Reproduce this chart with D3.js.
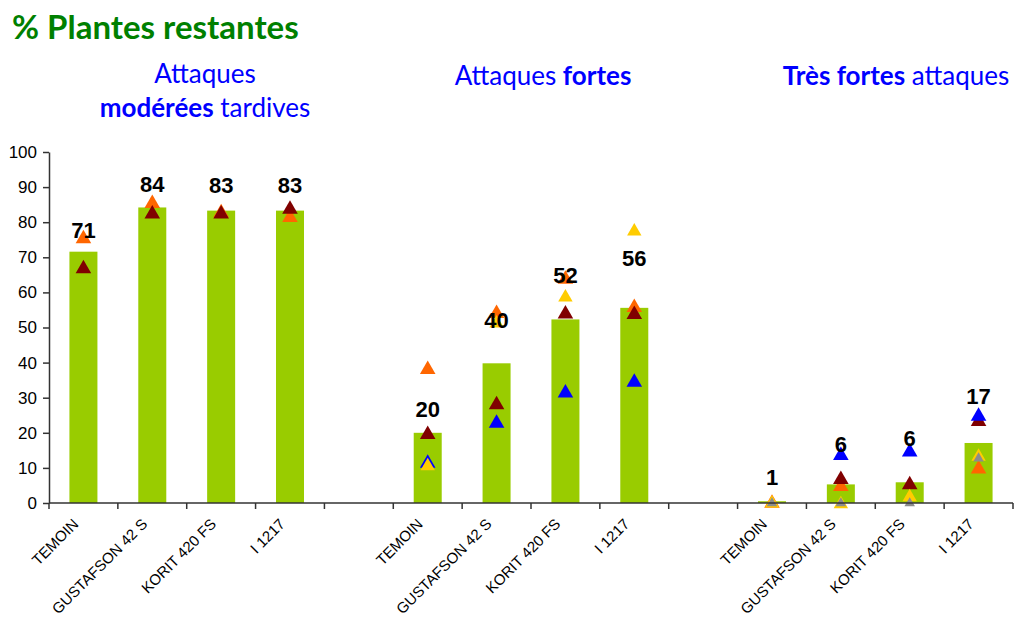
<!DOCTYPE html>
<html>
<head>
<meta charset="utf-8">
<script src="https://cdn.jsdelivr.net/npm/d3@7"></script>
<style>
  body { margin: 0; background: #fff; }
  svg text { font-family: "Liberation Sans", Arial, sans-serif; }
  .head { font-family: Lato, "Open Sans", sans-serif !important; fill: #0000ff; }
</style>
</head>
<body>
<svg id="chart" width="1014" height="619"></svg>
<script>
// --- data ---
var groups = ["moderees", "fortes", "tresfortes"];
var varieties = ["TEMOIN", "GUSTAFSON 42 S", "KORIT 420 FS", "I 1217"];
var yTicks = [0, 10, 20, 30, 40, 50, 60, 70, 80, 90, 100];

// green bars, 4 per group
var barModerees = [71.6, 84.2, 83.3, 83.3];
var barFortes = [20.0, 39.8, 52.3, 55.6];
var barTresFortes = [0.5, 5.3, 5.9, 17.1];

// numbers written above the bars and where they sit (in % units, baseline)
var labelModerees = ["71", "84", "83", "83"];
var labelFortes = ["20", "40", "52", "56"];
var labelTresFortes = ["1", "6", "6", "17"];
var labelAtModerees = [75.6, 88.5, 88.2, 88.2];
var labelAtFortes = [24.4, 50.0, 62.6, 67.4];
var labelAtTresFortes = [5.0, 14.4, 16.2, 28.1];

// triangle series, 12 values each (3 groups x 4 varieties), null = no marker
var triOrange  = [75.6, 85.6, 83.0, 81.6, 38.3, 54.3, 64.0, 56.0, 0.2, 5.0, null, 10.0];
var triDarkRed = [67.0, 82.6, 82.6, 84.0, 19.8, 28.3, 54.1, 54.0, null, 7.0, 5.5, 23.5];
var triBlue    = [null, null, null, null, 11.6, 23.0, 31.6, 34.7, null, 13.8, 14.8, 25.0];
var triYellow  = [null, null, null, null, 10.8, 51.5, 58.9, 77.7, 0.2, 0.0, 2.0, 13.5];
var triGrey    = [null, null, null, null, null, null, null, null, 0.2, 0.2, 0.2, 13.0];

var svg = d3.select("#chart");
var MARGINS = { top: 152, bottom: 503, left: 49, right: 1013 };

// 14 slots : 4 bars, gap, 4 bars, gap, 4 bars
var slots = [];
groups.forEach(function(g, gi) {
  varieties.forEach(function(v) { slots.push(g + "|" + v); });
  if (gi < groups.length - 1) slots.push("gap" + gi);
});
var keys = slots.filter(function(s) { return s.indexOf("gap") != 0; });

var x = d3.scaleBand().domain(slots).range([MARGINS.left, MARGINS.right]).paddingInner(0).paddingOuter(0);
var y = d3.scaleLinear().domain([0, 100]).range([MARGINS.bottom, MARGINS.top]);

var bars = barModerees.concat(barFortes, barTresFortes);
var labels = labelModerees.concat(labelFortes, labelTresFortes);
var labelAt = labelAtModerees.concat(labelAtFortes, labelAtTresFortes);
var barW = 28;

// title + group headers
svg.append("text")
   .attr("class", "head")
   .attr("x", 12).attr("y", 39)
   .style("fill", "#008000")
   .style("font-size", "33px")
   .style("font-weight", "bold")
   .text("% Plantes restantes");

var h1 = svg.append("text").attr("class", "head").attr("text-anchor", "middle").style("font-size", "26px");
h1.append("tspan").attr("x", 205).attr("y", 83).text("Attaques");
var l2 = h1.append("tspan").attr("x", 205).attr("y", 117);
l2.append("tspan").style("font-weight", "bold").text("modérées");
l2.append("tspan").text(" tardives");

var h2 = svg.append("text").attr("class", "head").attr("text-anchor", "middle").style("font-size", "26px")
            .attr("x", 543).attr("y", 85);
h2.append("tspan").text("Attaques ");
h2.append("tspan").style("font-weight", "bold").text("fortes");

var h3 = svg.append("text").attr("class", "head").attr("text-anchor", "middle").style("font-size", "26px")
            .attr("x", 896).attr("y", 85);
h3.append("tspan").style("font-weight", "bold").text("Très fortes");
h3.append("tspan").text(" attaques");

// bars
svg.selectAll(".bar")
   .data(keys)
   .enter().append("rect")
   .attr("class", "bar")
   .attr("x", function(d) { return x(d) + x.bandwidth() / 2 - barW / 2; })
   .attr("width", barW)
   .attr("y", function(d, i) { return y(bars[i]); })
   .attr("height", function(d, i) { return y(0) - y(bars[i]); })
   .attr("fill", "#99cc00");

// triangles
var tri = d3.symbol().type(d3.symbolTriangle);
var series = [
  { vals: triOrange,  color: "#ff6600", size: 105 },
  { vals: triDarkRed, color: "#800000", size: 105 },
  { vals: triBlue,    color: "#0000ff", size: 105 },
  { vals: triYellow,  color: "#ffcc00", size: 90 },
  { vals: triGrey,    color: "#8c8c8c", size: 48 }
];
series.forEach(function(s) {
  var pts = keys.map(function(k, i) { return { k: k, v: s.vals[i] }; })
                .filter(function(p) { return p.v != null; });
  svg.selectAll(null)
     .data(pts)
     .enter().append("path")
     .attr("d", tri.size(s.size)())
     .attr("transform", function(d) { return "translate(" + (x(d.k) + x.bandwidth() / 2) + "," + (y(d.v) + 1) + ")"; })
     .attr("fill", s.color);
});

// value labels
svg.selectAll(".vlabel")
   .data(keys)
   .enter().append("text")
   .attr("class", "vlabel")
   .attr("x", function(d) { return x(d) + x.bandwidth() / 2; })
   .attr("y", function(d, i) { return y(labelAt[i]); })
   .attr("text-anchor", "middle")
   .style("font-size", "22px")
   .style("font-weight", "bold")
   .text(function(d, i) { return labels[i]; });

// y axis
var yAxis = d3.axisLeft(y).tickValues(yTicks).tickSize(6).tickPadding(6).tickSizeOuter(0);
var gy = svg.append("g")
   .attr("transform", "translate(" + MARGINS.left + ",0)")
   .call(yAxis);
gy.selectAll("text").style("font-size", "17px").attr("fill", "#000");
gy.selectAll("line, path").attr("stroke", "#333").attr("stroke-width", 1.5);

// x axis : line, ticks between slots, rotated labels
svg.append("line")
   .attr("x1", MARGINS.left).attr("x2", MARGINS.right)
   .attr("y1", y(0)).attr("y2", y(0))
   .attr("stroke", "#333").attr("stroke-width", 1.5);

var edges = slots.map(function(s) { return x(s); }).concat([x(slots[slots.length - 1]) + x.bandwidth()]);
svg.selectAll(".xtick")
   .data(edges)
   .enter().append("line")
   .attr("x1", function(d) { return d; }).attr("x2", function(d) { return d; })
   .attr("y1", y(0)).attr("y2", y(0) + 6)
   .attr("stroke", "#333").attr("stroke-width", 1.5);

svg.selectAll(".xlabel")
   .data(keys)
   .enter().append("text")
   .attr("text-anchor", "end")
   .attr("transform", function(d) { return "translate(" + (x(d) + x.bandwidth() / 2 - 4) + "," + (y(0) + 22) + ") rotate(-45)"; })
   .style("font-size", "15px")
   .text(function(d) { return d.split("|")[1]; });
</script>
</body>
</html>
